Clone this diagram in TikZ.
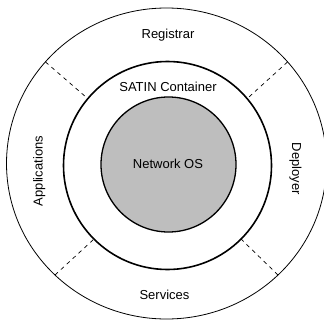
\documentclass[tikz,border=0pt]{standalone}
\usepackage{fontspec}
\setmainfont{Liberation Sans}
\usetikzlibrary{shapes.geometric}
\definecolor{osgray}{HTML}{BEBEBE}
\tikzset{
  ring/.style={draw=black, inner sep=0pt, outer sep=0pt},
  lbl/.style={font=\fontsize{13}{15}\selectfont, inner sep=0pt, anchor=base},
  sep/.style={draw=black, line width=0.7pt, dash pattern=on 4pt off 4pt}
}
\begin{document}
\begin{tikzpicture}[x=1pt, y=-1pt]
  \useasboundingbox (0,0) rectangle (324,324);
  \fill[white] (0,0) rectangle (324,324);
  \node[ring, ellipse, line width=0.8pt, minimum width=320pt, minimum height=311pt] (outer) at (166.5,163.5) {};
  \node[ring, circle, line width=1.6pt, minimum size=208pt] (mid) at (167.5,165.5) {};
  \node[ring, circle, line width=1.3pt, fill=osgray, minimum size=135pt] (core) at (168.5,164.5) {};
  \draw[sep] (outer.140) -- (mid.140);
  \draw[sep] (outer.40) -- (mid.40);
  \draw[sep] (outer.225) -- (mid.225);
  \draw[sep] (outer.315) -- (mid.315);
  \node[lbl] (reg) at (168,38.3) {Registrar};
  \node[lbl] (sat) at (168,91) {SATIN Container};
  \node[lbl] (nos) at (168,168.3) {Network OS};
  \node[lbl] (svc) at (164.5,299.3) {Services};
  \node[lbl, rotate=90] (app) at (42.5,171) {Applications};
  \node[lbl, rotate=-90] (dep) at (292,169) {Deployer};
\end{tikzpicture}
\end{document}
